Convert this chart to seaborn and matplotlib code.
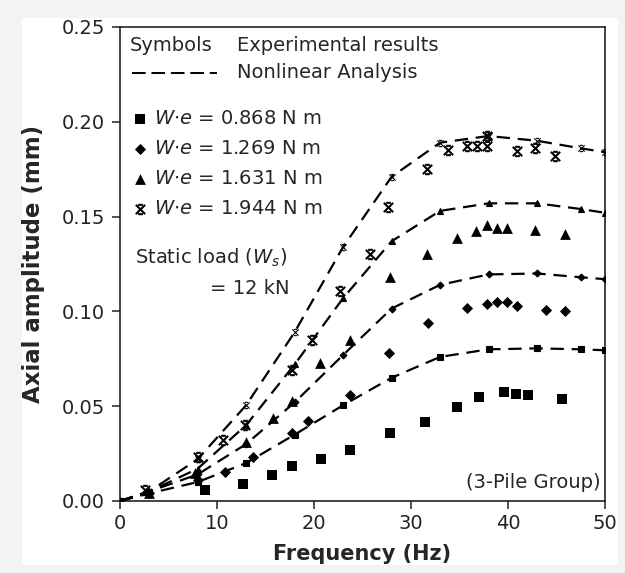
import numpy as np
import pandas as pd
import seaborn as sns
import matplotlib.pyplot as plt
from matplotlib.path import Path
from matplotlib.lines import Line2D
from matplotlib.patches import Rectangle

# model (nonlinear analysis) curves
model_freq = [0, 3, 8, 13, 18, 23, 28, 33, 38, 43, 47.5, 50]
model_868 = [0, 0.004, 0.010, 0.020, 0.035, 0.0505, 0.065, 0.076, 0.080, 0.0805, 0.080, 0.0795]
model_1269 = [0, 0.005, 0.014, 0.030, 0.052, 0.077, 0.1015, 0.114, 0.1195, 0.120, 0.118, 0.117]
model_1631 = [0, 0.005, 0.017, 0.040, 0.072, 0.107, 0.137, 0.153, 0.157, 0.157, 0.154, 0.152]
model_1944 = [0, 0.005, 0.022, 0.0505, 0.089, 0.134, 0.171, 0.189, 0.1925, 0.190, 0.186, 0.184]

# experimental results
exp_868_f = [8.8, 12.7, 15.7, 17.7, 20.7, 23.7, 27.8, 31.4, 34.7, 37.0, 39.6, 40.8, 42.1, 45.6]
exp_868_a = [0.0058, 0.009, 0.0137, 0.0184, 0.022, 0.027, 0.036, 0.0416, 0.0495, 0.055, 0.0574, 0.0563, 0.0558, 0.0537]
exp_1269_f = [3, 8, 10.8, 13.7, 17.7, 19.4, 23.7, 27.7, 31.8, 35.8, 37.8, 38.9, 39.9, 40.9, 43.9, 45.9]
exp_1269_a = [0.004, 0.011, 0.0155, 0.023, 0.036, 0.042, 0.056, 0.078, 0.0937, 0.102, 0.104, 0.105, 0.105, 0.103, 0.101, 0.100]
exp_1631_f = [3, 7.7, 13, 15.8, 17.7, 20.6, 23.7, 27.8, 31.6, 34.7, 36.7, 37.8, 38.9, 39.9, 42.8, 45.9]
exp_1631_a = [0.004, 0.015, 0.031, 0.044, 0.053, 0.073, 0.085, 0.118, 0.1305, 0.1385, 0.1426, 0.1458, 0.144, 0.144, 0.143, 0.141]
exp_1944_f = [2.6, 8, 10.6, 12.9, 17.7, 19.8, 22.7, 25.8, 27.6, 31.6, 33.8, 35.8, 36.8, 37.8, 37.8, 40.9, 42.8, 44.8]
exp_1944_a = [0.006, 0.023, 0.032, 0.040, 0.069, 0.0847, 0.111, 0.1305, 0.155, 0.175, 0.185, 0.187, 0.187, 0.187, 0.1926, 0.1847, 0.186, 0.182]

series_labels = ["0.868", "1.269", "1.631", "1.944"]

sns.set_style("ticks")
plt.rcParams['font.family'] = ['DejaVu Sans']
plt.rcParams['mathtext.fontset'] = 'dejavusans'

# asterisk-like marker: x with short bars top and bottom
star = Path([(-1, -1), (1, 1), (-1, 1), (1, -1), (-0.5, 1), (0.5, 1), (-0.5, -1), (0.5, -1)],
            [Path.MOVETO, Path.LINETO] * 4)

markers = {"0.868": "s", "1.269": "D", "1.631": "^", "1.944": star}
big = {"0.868": 55, "1.269": 32, "1.631": 60, "1.944": 45}
small = {"0.868": 4.0, "1.269": 3.5, "1.631": 4.0, "1.944": 4.5}

model_df = pd.DataFrame({
    "freq": model_freq * 4,
    "amp": model_868 + model_1269 + model_1631 + model_1944,
    "We": sum([[s] * len(model_freq) for s in series_labels], []),
})
exp_df = pd.DataFrame({
    "freq": exp_868_f + exp_1269_f + exp_1631_f + exp_1944_f,
    "amp": exp_868_a + exp_1269_a + exp_1631_a + exp_1944_a,
    "We": ["0.868"] * len(exp_868_f) + ["1.269"] * len(exp_1269_f)
          + ["1.631"] * len(exp_1631_f) + ["1.944"] * len(exp_1944_f),
})

fig = plt.figure(figsize=(6.25, 5.73), dpi=100, facecolor='#f3f3f3')
fig.patches.append(Rectangle((22 / 625, 8 / 573), 596 / 625, 547 / 573,
                             transform=fig.transFigure, facecolor='white',
                             edgecolor='none', zorder=-10))
ax = fig.add_axes([120 / 625, 1 - 501 / 573, 485 / 625, 474 / 573])
ax.set_facecolor('white')

for s in series_labels:
    d = model_df[model_df.We == s]
    sns.lineplot(data=d, x="freq", y="amp", ax=ax, color='black', lw=1.6,
                 marker=markers[s], markersize=small[s], markeredgewidth=0.8,
                 markeredgecolor='black', dashes=False, legend=False, zorder=3)
    ax.lines[-1].set_dashes((6, 3.5))

handles = []
for s in series_labels:
    d = exp_df[exp_df.We == s]
    if s == "1.944":
        sns.scatterplot(data=d, x="freq", y="amp", ax=ax, marker=star, s=big[s],
                        color='black', linewidth=1.5, edgecolor='black',
                        legend=False, zorder=4)
    else:
        sns.scatterplot(data=d, x="freq", y="amp", ax=ax, marker=markers[s], s=big[s],
                        color='black', linewidth=0, legend=False, zorder=4)
    handles.append(ax.collections[-1])

fs = 14
labels = [r"$W{\cdot}e$ = %s N m" % s for s in series_labels]
leg = ax.legend(handles, labels, loc='upper left', bbox_to_anchor=(0.0, 0.848),
                frameon=False, fontsize=fs, handletextpad=0.15, labelspacing=0.57,
                borderpad=0.2, handlelength=1.1, borderaxespad=0.3)

ax.text(1.0, 0.2405, "Symbols", fontsize=fs, va='center', ha='left')
ax.text(12.1, 0.2405, "Experimental results", fontsize=fs, va='center', ha='left')
ax.add_line(Line2D([1.2, 10.0], [0.2258, 0.2258], color='black', lw=1.4, dashes=(7, 3)))
ax.text(12.1, 0.2258, "Nonlinear Analysis", fontsize=fs, va='center', ha='left')
ax.text(1.55, 0.1284, r"Static load ($W_s$)", fontsize=fs, va='center', ha='left')
ax.text(17.5, 0.112, "= 12 kN", fontsize=fs, va='center', ha='right')
ax.text(49.5, 0.010, "(3-Pile Group)", fontsize=fs, va='center', ha='right')

ax.set_xlim(0, 50)
ax.set_ylim(0, 0.25)
ax.set_xticks(np.arange(0, 51, 10))
ax.set_yticks(np.arange(0, 0.251, 0.05))
ax.yaxis.set_major_formatter(plt.FormatStrFormatter('%.2f'))
ax.tick_params(direction='out', length=6, width=1.1, labelsize=14, colors='#222222')
ax.tick_params(axis='y', pad=5)
for sp in ax.spines.values():
    sp.set_visible(True)
    sp.set_linewidth(1.2)
    sp.set_color('#222222')
ax.set_xlabel("Frequency (Hz)", fontsize=15, fontweight='bold', labelpad=8)
ax.set_ylabel("Axial amplitude (mm)", fontsize=16.5, fontweight='bold', labelpad=12)

fig.savefig("out.png", dpi=100, facecolor=fig.get_facecolor())
